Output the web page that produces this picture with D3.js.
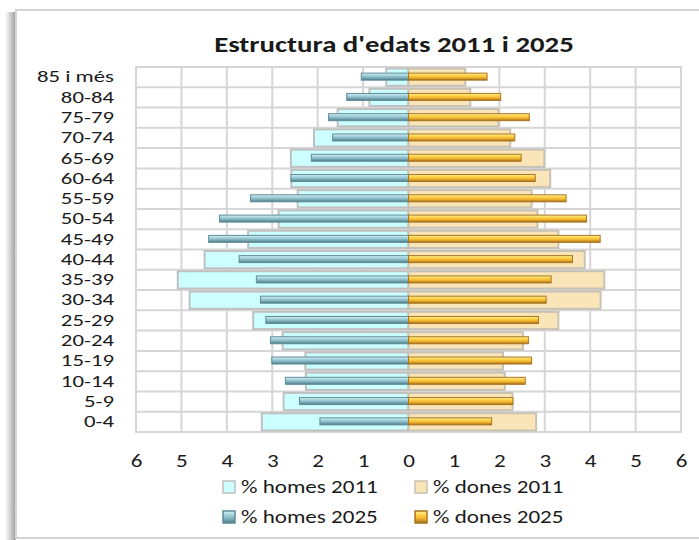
<!DOCTYPE html>
<html>
<head>
<meta charset="utf-8">
<script src="https://cdn.jsdelivr.net/npm/d3@7"></script>
<style>
  body { margin: 0; background: #fff; }
  svg { display: block; }
  text { font-family: Calibri, Carlito, Lato, "Open Sans", sans-serif; fill: #1a1a1a; }
</style>
</head>
<body>
<svg id="chart" width="699" height="540"></svg>
<script>
// Age groups, youngest first (drawn bottom to top)
const ageGroups = ["0-4", "5-9", "10-14", "15-19", "20-24", "25-29", "30-34", "35-39", "40-44",
                   "45-49", "50-54", "55-59", "60-64", "65-69", "70-74", "75-79", "80-84", "85 i més"];

// Share of total population (%) per age group
const men2011   = [3.23, 2.75, 2.26, 2.27, 2.77, 3.42, 4.82, 5.08, 4.49, 3.53, 2.86, 2.44, 2.58, 2.59, 2.08, 1.56, 0.86, 0.49];
const women2011 = [2.81, 2.29, 2.12, 2.08, 2.52, 3.30, 4.23, 4.31, 3.88, 3.30, 2.84, 2.71, 3.12, 2.99, 2.24, 1.98, 1.36, 1.25];
const men2025   = [1.95, 2.40, 2.71, 3.01, 3.04, 3.14, 3.26, 3.35, 3.73, 4.40, 4.16, 3.48, 2.59, 2.14, 1.67, 1.76, 1.36, 1.04];
const women2025 = [1.83, 2.30, 2.57, 2.71, 2.64, 2.86, 3.03, 3.14, 3.61, 4.22, 3.92, 3.47, 2.79, 2.48, 2.34, 2.66, 2.03, 1.73];

const xTicks = [-6, -5, -4, -3, -2, -1, 0, 1, 2, 3, 4, 5, 6];

const seriesNames = ["% homes 2011", "% dones 2011", "% homes 2025", "% dones 2025"];
const chartTitle = "Estructura d'edats 2011 i 2025";

// Text is drawn a little wider than the font's natural width
const TEXT_STRETCH = 1.28;
function widen(sel, k = TEXT_STRETCH) {
  sel.each(function () {
    const w = this.getComputedTextLength();
    d3.select(this).attr("textLength", w * k).attr("lengthAdjust", "spacingAndGlyphs");
  });
}

const svg = d3.select("#chart");
const defs = svg.append("defs");

// Outer frame with a soft shadow on its left side
const shadow = defs.append("linearGradient").attr("id", "frameShadow").attr("x1", 0).attr("x2", 1);
shadow.append("stop").attr("offset", 0).attr("stop-color", "#ffffff");
shadow.append("stop").attr("offset", 0.6).attr("stop-color", "#c4c4c4");
shadow.append("stop").attr("offset", 1).attr("stop-color", "#9a9a9a");
svg.append("rect").attr("x", 5).attr("y", 12).attr("width", 11).attr("height", 528)
  .attr("fill", "url(#frameShadow)");
svg.append("rect").attr("x", 16).attr("y", 10).attr("width", 700).attr("height", 528)
  .attr("fill", "#fff").attr("stroke", "#d4d4d4").attr("stroke-width", 2);

// Bevelled fills for the 2025 bars
function bevel(id, stops) {
  const g = defs.append("linearGradient").attr("id", id)
    .attr("x1", 0).attr("y1", 0).attr("x2", 0).attr("y2", 1);
  stops.forEach(([o, c]) => g.append("stop").attr("offset", o).attr("stop-color", c));
}
bevel("tealBar", [[0, "#d9f1f6"], [0.3, "#a9d6e0"], [0.65, "#7fb0bb"], [1, "#4b7a85"]]);
bevel("goldBar", [[0, "#fff3a6"], [0.3, "#ffd64e"], [0.65, "#f0b12c"], [1, "#a06c1c"]]);

const plot = { left: 136, right: 681, top: 67, bottom: 432 };

const x = d3.scaleLinear().domain([-6, 6]).range([plot.left, plot.right]);
const y = d3.scaleBand().domain(ageGroups.slice().reverse()).range([plot.top, plot.bottom]).padding(0);

// Title
svg.append("text")
  .attr("x", 394).attr("y", 52)
  .attr("text-anchor", "middle")
  .style("font-size", "22.5px").style("font-weight", "bold")
  .text(chartTitle)
  .call(widen);

// Gridlines
const grid = svg.append("g").attr("stroke", "#d6d6d6").attr("stroke-width", 2);
grid.selectAll("line.v").data(xTicks).join("line")
  .attr("x1", d => x(d)).attr("x2", d => x(d))
  .attr("y1", plot.top).attr("y2", plot.bottom);
grid.selectAll("line.h").data(ageGroups).join("line")
  .attr("x1", plot.left).attr("x2", plot.right)
  .attr("y1", d => y(d)).attr("y2", d => y(d));
grid.append("rect").attr("x", plot.left).attr("y", plot.top)
  .attr("width", plot.right - plot.left).attr("height", plot.bottom - plot.top)
  .attr("fill", "none");

const rows = ageGroups.map((g, i) => ({
  group: g, m11: men2011[i], w11: women2011[i], m25: men2025[i], w25: women2025[i]
}));

// 2011 bars (wide)
const wide = svg.append("g");
wide.selectAll("rect.m11").data(rows).join("rect")
  .attr("x", d => x(-d.m11)).attr("width", d => x(0) - x(-d.m11))
  .attr("y", d => y(d.group) + 1.5).attr("height", y.bandwidth() - 3)
  .attr("fill", "#ccffff").attr("stroke", "#c0c0c0").attr("stroke-width", 2);
wide.selectAll("rect.w11").data(rows).join("rect")
  .attr("x", x(0)).attr("width", d => x(d.w11) - x(0))
  .attr("y", d => y(d.group) + 1.5).attr("height", y.bandwidth() - 3)
  .attr("fill", "#fae5b8").attr("stroke", "#c8c2b4").attr("stroke-width", 2);

// 2025 bars (narrow, bevelled)
const barH = 7;
const narrow = svg.append("g");
narrow.selectAll("rect.m25").data(rows).join("rect")
  .attr("x", d => x(-d.m25)).attr("width", d => x(0) - x(-d.m25))
  .attr("y", d => y(d.group) + y.bandwidth() / 2 - barH / 2 - 0.5).attr("height", barH)
  .attr("fill", "url(#tealBar)").attr("stroke", "#5f8c96").attr("stroke-width", 1);
narrow.selectAll("rect.w25").data(rows).join("rect")
  .attr("x", x(0)).attr("width", d => x(d.w25) - x(0))
  .attr("y", d => y(d.group) + y.bandwidth() / 2 - barH / 2 - 0.5).attr("height", barH)
  .attr("fill", "url(#goldBar)").attr("stroke", "#a9741f").attr("stroke-width", 1);

// Axes
const xAxis = svg.append("g")
  .attr("transform", `translate(0,${plot.bottom})`)
  .call(d3.axisBottom(x).tickValues(xTicks).tickFormat(d => Math.abs(d)).tickSize(0).tickPadding(22));
xAxis.select(".domain").remove();
xAxis.selectAll("text").style("font-size", "18px").attr("fill", "#1a1a1a").call(widen);

const yAxis = svg.append("g")
  .attr("transform", `translate(${plot.left},0)`)
  .call(d3.axisLeft(y).tickSize(0).tickPadding(22));
yAxis.select(".domain").remove();
yAxis.selectAll("text").style("font-size", "16.5px").attr("fill", "#1a1a1a").call(widen, 1.38);

// Legend
const legendItems = [
  { name: seriesNames[0], x: 223, y: 487, fill: "#ccffff", stroke: "#c0c0c0" },
  { name: seriesNames[1], x: 415, y: 487, fill: "#fae5b8", stroke: "#c8c2b4" },
  { name: seriesNames[2], x: 223, y: 517, fill: "url(#tealBar)", stroke: "#5f8c96" },
  { name: seriesNames[3], x: 415, y: 517, fill: "url(#goldBar)", stroke: "#a9741f" }
];
const legend = svg.append("g");
const li = legend.selectAll("g").data(legendItems).join("g")
  .attr("transform", d => `translate(${d.x},${d.y})`);
li.append("rect").attr("x", 0).attr("y", -6).attr("width", 12).attr("height", 12)
  .attr("fill", d => d.fill).attr("stroke", d => d.stroke).attr("stroke-width", 1.5);
li.append("text").attr("x", 18).attr("y", 0).attr("dy", "0.35em")
  .style("font-size", "18px").text(d => d.name)
  .call(widen);
</script>
</body>
</html>
